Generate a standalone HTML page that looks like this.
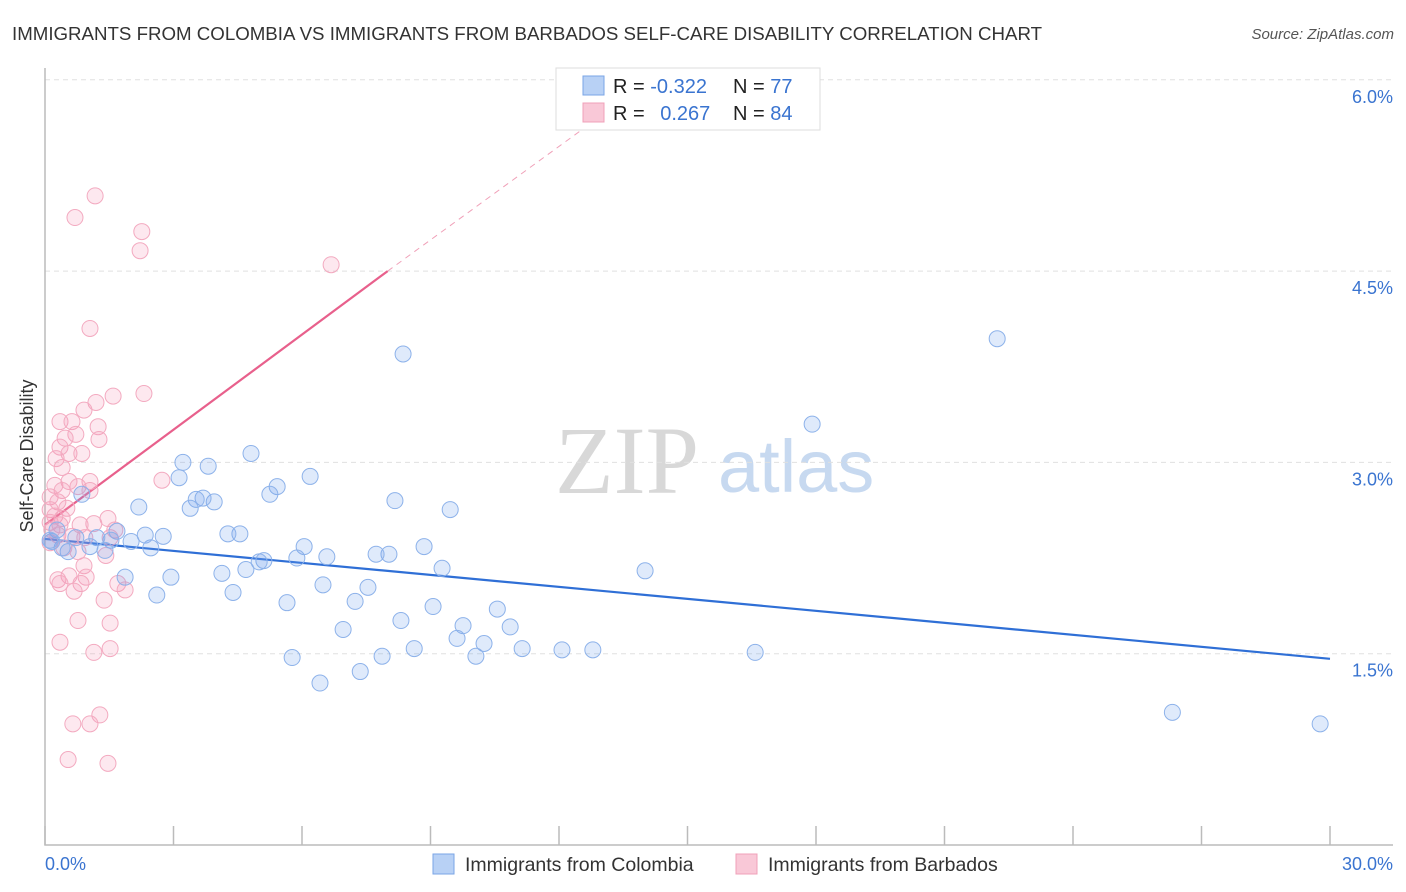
<!DOCTYPE html>
<html><head><meta charset="utf-8"><style>
body{margin:0;background:#fff;font-family:"Liberation Sans",sans-serif}
svg{display:block}
</style></head><body>
<svg id="chart" width="1406" height="892" viewBox="0 0 1406 892" xmlns="http://www.w3.org/2000/svg">
<text x="12" y="40" font-size="18.7" fill="#333">IMMIGRANTS FROM COLOMBIA VS IMMIGRANTS FROM BARBADOS SELF-CARE DISABILITY CORRELATION CHART</text>
<text x="1394" y="39" font-size="15" fill="#555" font-style="italic" text-anchor="end">Source: ZipAtlas.com</text>
<g>
<text x="555" y="493" font-family="Liberation Serif,serif" font-size="96" fill="#d8d8d8">ZIP</text>
<text x="718" y="492" font-size="74" fill="#c7d9f0">atlas</text>
</g>
<g id="grid"></g>
<g id="axes"></g>
<text transform="translate(33,456) rotate(-90)" font-size="18" fill="#333" text-anchor="middle">Self-Care Disability</text>
<g id="trends"></g>
<g id="points"></g>
<g>
<rect x="556" y="68" width="264" height="62" fill="#fff" stroke="#ddd"/>
<rect x="583" y="76" width="21" height="19" fill="#b8d1f5" stroke="#7aa5e6"/>
<rect x="583" y="103" width="21" height="19" fill="#f9c8d7" stroke="#f0a0b8"/>
<text x="613" y="93" font-size="20" fill="#222">R = <tspan fill="#3a74d0">-0.322</tspan></text>
<text x="733" y="93" font-size="20" fill="#222">N = <tspan fill="#3a74d0">77</tspan></text>
<text x="613" y="120" font-size="20" fill="#222">R = <tspan fill="#3a74d0" dx="10">0.267</tspan></text>
<text x="733" y="120" font-size="20" fill="#222">N = <tspan fill="#3a74d0">84</tspan></text>
</g>
<g>
<rect x="433" y="854" width="21" height="20" fill="#b8d1f5" stroke="#7aa5e6"/>
<text x="465" y="871" font-size="19.5" fill="#333">Immigrants from Colombia</text>
<rect x="736" y="854" width="21" height="20" fill="#f9c8d7" stroke="#f0a0b8"/>
<text x="768" y="871" font-size="19.5" fill="#333">Immigrants from Barbados</text>
</g>
</svg>
<script>
const yTicks=[1.5,3.0,4.5,6.0];
const yTickLabels=["1.5%","3.0%","4.5%","6.0%"];
const xTicks=[0,3,6,9,12,15,18,21,24,27,30];
const colombiaX=[8.36,22.23,17.91,26.32,29.77,16.58,14.01,12.79,12.07,11.14,10.86,10.56,10.25,10.06,9.76,9.62,9.46,9.27,9.06,8.85,8.62,8.31,8.17,8.03,7.87,7.73,7.54,7.36,7.24,6.96,6.58,6.49,6.42,6.19,6.05,5.88,5.77,5.65,5.42,5.25,5.11,5.00,4.81,4.69,4.55,4.39,4.27,4.13,3.95,3.81,3.69,3.53,3.39,3.22,3.13,2.94,2.76,2.61,2.47,2.34,2.19,2.01,1.87,1.68,1.54,1.40,1.21,1.05,0.86,0.72,0.54,0.40,0.28,0.16,0.12];
const colombiaY=[3.85,3.97,3.30,1.04,0.95,1.51,2.15,1.53,1.53,1.54,1.71,1.85,1.58,1.48,1.72,1.62,2.63,2.17,1.87,2.34,1.54,1.76,2.70,2.28,1.48,2.28,2.02,1.36,1.91,1.69,2.26,2.04,1.27,2.89,2.34,2.25,1.47,1.90,2.81,2.75,2.23,2.22,3.07,2.16,2.44,1.98,2.44,2.13,2.69,2.97,2.72,2.71,2.64,3.00,2.88,2.10,2.42,1.96,2.33,2.43,2.65,2.38,2.10,2.46,2.39,2.31,2.41,2.34,2.75,2.41,2.30,2.33,2.47,2.38,2.39];
const barbadosX=[1.17,0.70,2.26,2.22,6.68,1.05,2.31,1.59,1.19,0.91,0.35,0.63,1.24,0.72,0.47,1.26,0.35,0.56,0.86,0.26,0.40,2.73,1.05,0.56,0.23,0.77,1.05,0.40,0.12,0.30,0.51,0.12,0.23,0.40,1.47,0.12,0.35,1.14,0.82,0.16,1.63,0.30,0.63,0.93,1.52,0.12,0.44,0.77,1.42,0.91,0.56,0.96,0.30,0.35,0.84,1.70,1.87,0.68,1.38,0.77,1.52,0.35,1.52,1.14,1.28,0.65,1.05,0.54,1.47];
const barbadosY=[5.09,4.92,4.81,4.66,4.55,4.05,3.54,3.52,3.47,3.41,3.32,3.32,3.28,3.22,3.19,3.18,3.12,3.07,3.07,3.03,2.96,2.86,2.85,2.85,2.82,2.81,2.78,2.78,2.73,2.69,2.64,2.63,2.58,2.56,2.56,2.53,2.51,2.52,2.51,2.47,2.47,2.43,2.42,2.41,2.41,2.37,2.33,2.30,2.27,2.19,2.11,2.10,2.08,2.05,2.05,2.05,2.00,1.99,1.92,1.76,1.74,1.59,1.54,1.51,1.02,0.95,0.95,0.67,0.64];
const colombiaTrend=[[0,2.40],[30,1.46]];
const barbadosTrend=[[0,2.51],[8,4.5]];
const barbadosTrendExt=[[8,4.5],[12.5,5.6]];

const NS="http://www.w3.org/2000/svg";
const xS=v=>45+v/30*1285;
const yS=v=>845-v/1.5*191.3;
function mk(tag,attrs,parent){const e=document.createElementNS(NS,tag);for(const k in attrs)e.setAttribute(k,attrs[k]);parent.appendChild(e);return e;}
const grid=document.getElementById('grid'),axes=document.getElementById('axes');
yTicks.forEach((t,i)=>{
 const l=mk('line',{x1:45,x2:1393,y1:yS(t),y2:yS(t),stroke:'#e0e0e0','stroke-dasharray':'5,4'},grid);
 
 
 const tx=mk('text',{x:1393,y:yS(t)+23,'font-size':18,fill:'#3a74d0','text-anchor':'end'},axes);
 tx.textContent=yTickLabels[i];
 
 
});
const ax=mk('path',{d:'M45 68V845H1393',fill:'none',stroke:'#bbb','stroke-width':1.5},axes);


xTicks.forEach(t=>{
 const l=mk('line',{x1:xS(t),x2:xS(t),y1:826,y2:845,stroke:'#bbb','stroke-width':1.5},axes);
 
 
});
const x0=mk('text',{x:45,y:870,'font-size':18,fill:'#3a74d0'},axes);x0.textContent='0.0%';


const x1=mk('text',{x:1393,y:870,'font-size':18,fill:'#3a74d0','text-anchor':'end'},axes);x1.textContent='30.0%';


const pts=document.getElementById('points');
function series(xs,ys,fill,stroke,name){xs.forEach((x,i)=>{
 const c=mk('circle',{cx:xS(x),cy:yS(ys[i]),r:8,fill:fill,stroke:stroke,'stroke-width':1},pts);
 
 
});}
series(barbadosX,barbadosY,'rgba(244,150,180,0.22)','#f3aac0','barbados-point');
series(colombiaX,colombiaY,'rgba(110,160,235,0.22)','#8db2ea','colombia-point');
const tr=document.getElementById('trends');
function line(p,stroke,w,dash,name){const l=mk('line',{x1:xS(p[0][0]),y1:yS(p[0][1]),x2:xS(p[1][0]),y2:yS(p[1][1]),stroke:stroke,'stroke-width':w},tr);
 if(dash)l.setAttribute('stroke-dasharray',dash);
 
 }
line(barbadosTrendExt,'#f0a0b8',1,'6,5','barbados-trend-extension');
line(barbadosTrend,'#e8608c',2.2,null,'barbados-trend-line');
line(colombiaTrend,'#2f6fd6',2.2,null,'colombia-trend-line');
</script>
</body></html>
